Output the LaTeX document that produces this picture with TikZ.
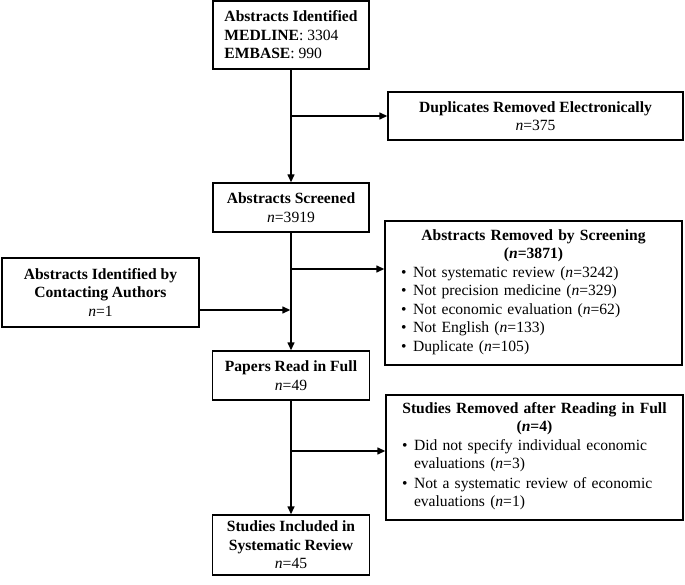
\documentclass[tikz,border=0pt]{standalone}
\usepackage{fontspec}
\setmainfont{Liberation Serif}
\usetikzlibrary{arrows.meta}
\tikzset{
  box/.style={draw, line width=1.4pt, align=center, inner sep=6pt,
    font=\fontsize{15.6}{18.5}\selectfont},
  listbox/.style={box, align=left},
  conn/.style={line width=1.4pt},
  arr/.style={conn, -{Triangle[length=8pt,width=7pt]}},
}
\newcommand{\bitem}[1]{\par\noindent\hspace*{10pt}\makebox[12pt][l]{\textbullet}\begin{tabular}[t]{@{}l@{}}#1\end{tabular}}
\begin{document}
\begin{tikzpicture}[x=1pt,y=-1pt]
\useasboundingbox (0,0) rectangle (685,585);
\node[box, align=left, minimum width=156pt, minimum height=68pt] (b1) at (291,35)
  {\textbf{Abstracts Identified}\\\textbf{MEDLINE}: 3304\\\textbf{EMBASE}: 990};
\node[box, minimum width=295pt, minimum height=48pt] (dup) at (535.5,116)
  {\textbf{Duplicates Removed Electronically}\\\textit{n}=375};
\node[box, minimum width=156pt, minimum height=49pt] (scr) at (291,207.5)
  {\textbf{Abstracts Screened}\\\textit{n}=3919};
\node[listbox, text width=285pt, minimum height=144pt] (rem) at (533.5,293)
  {{\centering\textbf{Abstracts Removed by Screening}\\\textbf{(\textit{n}=3871)}\par}
   \bitem{Not systematic review (\textit{n}=3242)}
   \bitem{Not precision medicine (\textit{n}=329)}
   \bitem{Not economic evaluation (\textit{n}=62)}
   \bitem{Not English (\textit{n}=133)}
   \bitem{Duplicate (\textit{n}=105)}};
\node[box, minimum width=197pt, minimum height=69pt] (auth) at (100.5,292.5)
  {\textbf{Abstracts Identified by}\\\textbf{Contacting Authors}\\\textit{n}=1};
\node[box, minimum width=157pt, minimum height=49pt] (full) at (291,375.5)
  {\textbf{Papers Read in Full}\\\textit{n}=49};
\node[listbox, text width=285pt, minimum height=125pt] (srem) at (534.5,457.5)
  {{\centering\textbf{Studies Removed after Reading in Full}\\\textbf{(\textit{n}=4)}\par}
   \bitem{Did not specify individual economic\\evaluations (\textit{n}=3)}
   \bitem{Not a systematic review of economic\\evaluations (\textit{n}=1)}};
\node[box, minimum width=157pt, minimum height=60pt] (incl) at (291,545)
  {\textbf{Studies Included in}\\\textbf{Systematic Review}\\\textit{n}=45};
% connectors
\draw[arr] (b1) -- (scr);
\draw[arr] (b1.south |- dup.west) -- (dup.west);
\draw[arr] (scr) -- (full);
\coordinate (j2) at (291,269);
\draw[arr] (j2) -- (j2 -| rem.west);
\coordinate (j3) at (290.3,310);
\draw[arr] (j3 -| auth.east) -- (j3);
\draw[arr] (full) -- (incl);
\coordinate (j4) at (291,451);
\draw[arr] (j4) -- (j4 -| srem.west);
\end{tikzpicture}
\end{document}
